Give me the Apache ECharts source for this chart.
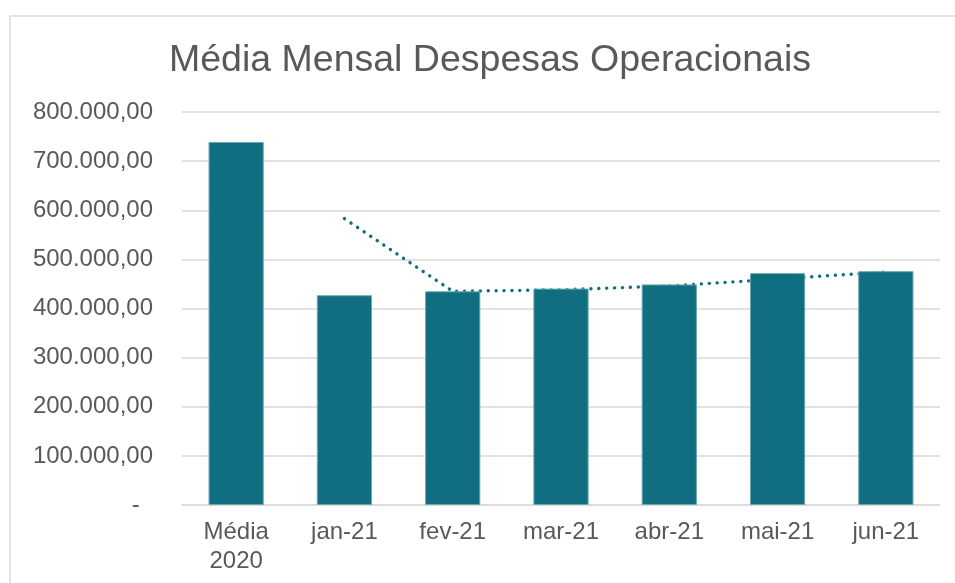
<!DOCTYPE html>
<html>
<head>
<meta charset="utf-8">
<script src="https://cdn.jsdelivr.net/npm/echarts@6/dist/echarts.min.js"></script>
<style>
  html, body { margin: 0; padding: 0; background: #fff; }
  #chart { width: 955px; height: 583px; }
</style>
</head>
<body>
<div id="chart"></div>
<script>
var categories = ['Média\n2020', 'jan-21', 'fev-21', 'mar-21', 'abr-21', 'mai-21', 'jun-21'];
var despesas = [739000, 427000, 435000, 440500, 449000, 472000, 476000];
// linha de tendência pontilhada (média móvel)
var tendencia = [null, 583000, 435000, 438000, 446000, 460000, 474500];
var yTicks = [0, 100000, 200000, 300000, 400000, 500000, 600000, 700000, 800000];

var chart = echarts.init(document.getElementById('chart'));

function formatValor(v) {
  if (v === 0) return '-  ';
  var s = String(Math.round(v)).replace(/\B(?=(\d{3})+(?!\d))/g, '.');
  return s + ',00';
}

var option = {
  animation: false,
  textStyle: { fontFamily: 'Liberation Sans, Arial, sans-serif' },
  title: {
    text: 'Média Mensal Despesas Operacionais',
    left: 164,
    top: 37,
    textStyle: {
      fontSize: 37.5,
      fontWeight: 'normal',
      color: '#595959'
    }
  },
  graphic: [{
    type: 'rect',
    shape: { x: 10, y: 16, width: 1000, height: 700 },
    style: { fill: 'none', stroke: '#d9d9d9', lineWidth: 1.5 },
    silent: true
  }],
  grid: {
    left: 182,
    right: 15,
    top: 112,
    bottom: 78
  },
  xAxis: {
    type: 'category',
    data: categories,
    axisTick: { show: false },
    axisLine: { lineStyle: { color: '#d9d9d9', width: 1.5 } },
    axisLabel: {
      color: '#595959',
      fontSize: 24,
      lineHeight: 29,
      margin: 13,
      interval: 0
    }
  },
  yAxis: {
    type: 'value',
    min: yTicks[0],
    max: yTicks[yTicks.length - 1],
    interval: yTicks[1] - yTicks[0],
    axisLine: { show: false },
    axisTick: { show: false },
    splitLine: { lineStyle: { color: '#d9d9d9', width: 1.5 } },
    axisLabel: {
      color: '#595959',
      fontSize: 24,
      margin: 29,
      formatter: formatValor
    }
  },
  series: [{
    name: 'Tendência',
    type: 'line',
    data: tendencia,
    z: 1,
    symbol: 'none',
    lineStyle: {
      color: '#136f7f',
      width: 3.4,
      type: [0.1, 7.8],
      cap: 'round'
    }
  }, {
    name: 'Despesas',
    type: 'bar',
    data: despesas,
    z: 2,
    barWidth: '51%',
    itemStyle: {
      color: '#116e80',
      borderColor: '#6aa8b3',
      borderWidth: 1
    }
  }]
};

chart.setOption(option);
</script>
</body>
</html>
